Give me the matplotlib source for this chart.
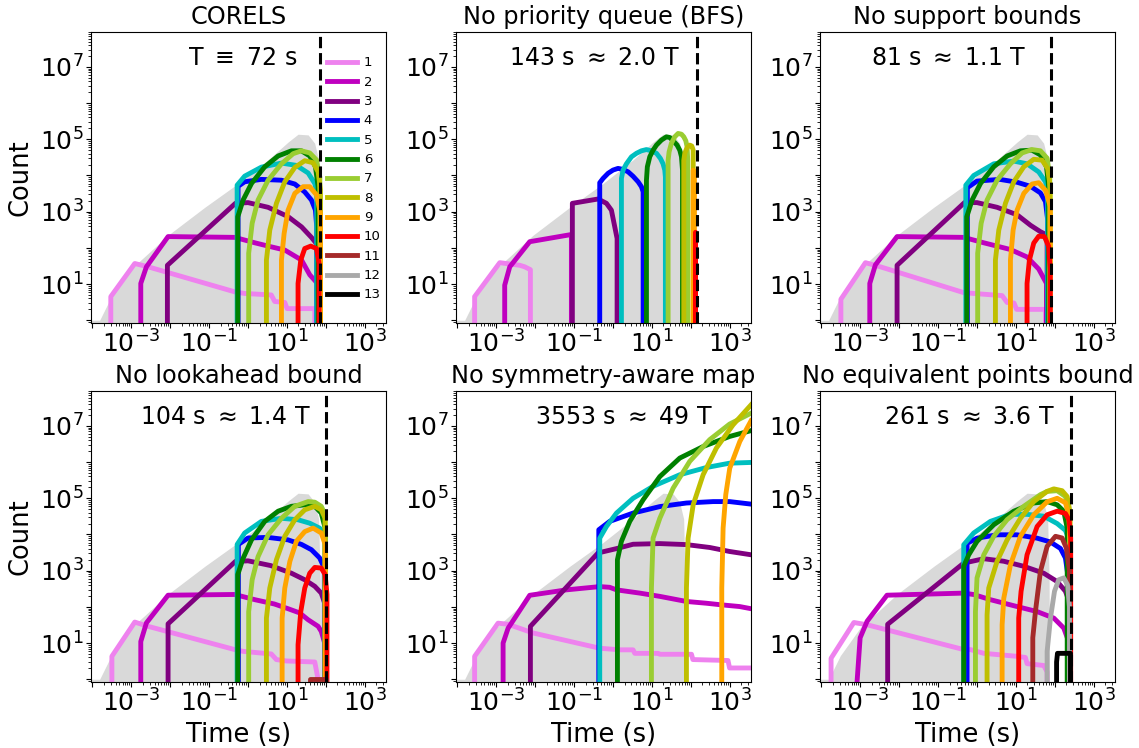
import numpy as np
import matplotlib
matplotlib.use("Agg")
import matplotlib.pyplot as plt
from matplotlib.lines import Line2D
from matplotlib.ticker import FixedLocator, LogLocator, FuncFormatter, NullFormatter

# colours for prefix length 1..13
COLORS = ['violet', 'm', 'purple', 'b', 'c', 'g', 'yellowgreen', 'y',
          'orange', 'r', 'brown', 'darkgray', 'k']

TITLES = ['CORELS', 'No priority queue (BFS)', 'No support bounds',
          'No lookahead bound', 'No symmetry-aware map', 'No equivalent points bound']
RUNTIMES = [72, 143, 81, 104, 3553, 261]
NOTES = [r'T $\equiv$ 72 s', r'143 s $\approx$ 2.0 T', r'81 s $\approx$ 1.1 T',
         r'104 s $\approx$ 1.4 T', r'3553 s $\approx$ 49 T', r'261 s $\approx$ 3.6 T']
NOTE_X = [0.515, 0.47, 0.437, 0.454, 0.57, 0.505]

# total queue size of CORELS (grey background, same in every panel)
total_t = [9.3e-5, 1.55e-4, 3.1e-4, 1.02e-3, 2.45e-3, 8.9e-3, 0.078, 0.56, 3.3,
           11, 19.5, 35.5, 52, 66, 72, 75]
total_c = [1, 1, 4.5, 27, 63, 224, 1320, 6000, 27000, 85000, 138000, 132000,
           78000, 27000, 590, 0]

# queue size per prefix length: {length: (times, counts)}
corels = {
    1: ([3.0e-4, 3.0e-4, 1.24e-3, 2.72e-3, 0.46, 0.83, 4.0, 4.9, 8.9, 10.2, 52.5, 57],
        [0, 4.5, 37, 30, 6.1, 5.5, 5.0, 3.3, 3.1, 2.1, 2.1, 0]),
    2: ([1.77e-3, 1.77e-3, 2.47e-3, 8.9e-3, 0.46, 1.51, 3.31, 8.9, 24, 39, 61.7, 64.5],
        [0, 10.4, 30, 205, 195, 138, 112, 87, 46, 18, 10.4, 0]),
    3: ([8.55e-3, 8.55e-3, 0.48, 1.01, 3.31, 10.8, 24, 43, 61.7, 64.5],
        [0, 33, 1700, 1780, 1320, 730, 380, 195, 120, 0]),
    4: ([0.56, 0.56, 0.83, 2.23, 7.3, 16.1, 29, 43, 54.6, 58.9, 61.7],
        [0, 5000, 6700, 7800, 7400, 5800, 3500, 2100, 1100, 380, 0]),
    5: ([0.53, 0.53, 0.83, 2.23, 7.3, 17.7, 35.4, 52.5, 58.9, 61.7],
        [0, 5400, 9600, 17000, 22000, 19000, 11700, 6000, 3500, 0]),
    6: ([0.55, 0.55, 0.755, 1.24, 2.72, 6.0, 13.2, 23.8, 38.9, 54.6, 64, 65],
        [0, 720, 2100, 6000, 17400, 34600, 48000, 48000, 34600, 17400, 4900, 0]),
    7: ([1.05, 1.05, 1.29, 1.83, 3.31, 7.3, 14.6, 23.8, 38.9, 58, 70.8, 72],
        [0, 71, 480, 2100, 7400, 21000, 40000, 48000, 42000, 27000, 9000, 0]),
    8: ([3.0, 3.0, 3.66, 5.42, 8.9, 16.1, 29, 47.5, 64, 73.5, 74],
        [0, 46, 310, 1700, 6700, 16700, 25600, 22500, 12600, 4000, 0]),
    9: ([7.3, 7.3, 8.55, 10.8, 16.1, 26.3, 38.9, 58, 73.5, 75],
        [0, 46, 250, 1100, 3200, 4900, 4900, 2900, 900, 0]),
    10: ([19.5, 19.5, 22.9, 29, 41.4, 58, 67.6, 73.5],
         [0, 10.4, 46, 96, 112, 96, 37, 0]),
}

no_pqueue = {
    1: ([2.8e-4, 2.8e-4, 1.24e-3, 4.05e-3, 5.4e-3, 7.6e-3, 7.7e-3],
        [0, 4.5, 39, 33, 30, 25, 0]),
    2: ([1.66e-3, 1.66e-3, 2.24e-3, 7.3e-3, 0.086, 0.091],
        [0, 9.3, 30, 148, 234, 0]),
    3: ([0.091, 0.091, 0.417, 0.684, 0.918, 1.285, 1.32],
        [0, 1700, 2240, 1700, 1100, 182, 0]),
    4: ([0.46, 0.46, 0.56, 0.755, 1.01, 1.36, 1.83, 2.47, 3.31, 4.46, 5.42, 6.0, 6.35],
        [0, 6300, 8300, 11500, 14100, 15700, 14700, 12600, 9500, 6700, 4900, 3550, 0]),
    5: ([1.66, 1.66, 1.83, 2.23, 3.0, 4.04, 5.42, 7.3, 9.8, 13.2, 16.7, 19.5, 21.6, 22.4, 23],
        [0, 8300, 14100, 21000, 32700, 41000, 48000, 52000, 48000, 41000, 29500, 21000,
         14100, 9000, 0]),
    6: ([7.3, 7.3, 7.7, 8.9, 10.8, 13.2, 17.7, 23.8, 29, 35.4, 44.8, 52.5, 58, 61.7, 64.5],
        [0, 7400, 17400, 33000, 50000, 69000, 95000, 117000, 112000, 91000, 69000, 50000,
         33000, 14000, 0]),
    7: ([26.3, 26.3, 27.9, 32, 39, 47.5, 58, 66.5, 75, 81, 84, 86],
        [0, 26000, 45000, 78000, 117000, 145000, 138000, 117000, 91000, 62000, 26000, 0]),
    8: ([66.5, 66.5, 70.5, 81, 95, 107, 116, 117],
        [0, 26000, 41000, 59000, 69000, 65000, 50000, 0]),
    9: ([116, 116, 125, 130], [0, 14000, 13000, 0]),
    10: ([133, 133, 141], [0, 270, 0]),
}

no_support = {
    1: ([3.2e-4, 3.2e-4, 1.37e-3, 3.3e-3, 0.46, 0.83, 4.46, 6.0, 9.0, 10.5, 58, 64],
        [0, 3.8, 39, 30, 5.8, 5.5, 4.8, 3.1, 3.0, 2.0, 2.0, 0]),
    2: ([1.77e-3, 1.77e-3, 2.47e-3, 8.9e-3, 0.46, 1.51, 7.3, 19.5, 38.9, 61.7, 66],
        [0, 10.4, 34, 205, 195, 138, 90, 56, 26, 10.4, 0]),
    3: ([8.9e-3, 8.9e-3, 0.48, 1.01, 3.31, 10.8, 24, 43, 64, 68],
        [0, 33, 1780, 1780, 1320, 820, 420, 280, 225, 0]),
    4: ([0.57, 0.57, 1.01, 3.9, 10.8, 24, 43, 58, 66, 68],
        [0, 4600, 7000, 7800, 6500, 5000, 3300, 1900, 600, 0]),
    5: ([0.52, 0.52, 0.83, 2.72, 8.9, 19.5, 38.9, 58, 66, 68],
        [0, 5400, 10000, 21000, 25000, 21000, 12500, 6700, 3800, 0]),
    6: ([0.55, 0.55, 0.755, 1.24, 2.72, 6.0, 13.2, 26, 43, 61.7, 70, 71],
        [0, 720, 2100, 6000, 17400, 34600, 48000, 50000, 37000, 17400, 4900, 0]),
    7: ([1.05, 1.05, 1.29, 1.83, 3.31, 7.3, 14.6, 26, 43, 64, 75, 77],
        [0, 71, 480, 2100, 7400, 21000, 42000, 52000, 48000, 30000, 9000, 0]),
    8: ([3.0, 3.0, 3.66, 5.42, 8.9, 16.1, 29, 47.5, 66, 77, 78],
        [0, 46, 310, 1700, 6700, 17400, 28000, 26500, 15500, 4900, 0]),
    9: ([7.3, 7.3, 8.55, 10.8, 16.1, 26.3, 38.9, 58, 77, 81],
        [0, 46, 310, 1100, 3200, 5800, 6300, 3900, 1400, 0]),
    10: ([19.5, 19.5, 22.4, 29, 38.9, 54.6, 70, 77, 80],
         [0, 10.4, 46, 136, 210, 205, 110, 25, 0]),
}

no_lookahead = {
    1: ([3.2e-4, 3.2e-4, 1.24e-3, 2.72e-3, 0.46, 0.75, 4.0, 5.4, 9.8, 52.5, 61.7, 63],
        [0, 4.3, 38, 29, 6.6, 5.9, 5.0, 3.5, 3.2, 3.0, 1.2, 0]),
    2: ([1.77e-3, 1.77e-3, 2.47e-3, 8.9e-3, 0.46, 1.51, 4.8, 10.8, 21.5, 35.4, 64, 77, 97, 103],
        [0, 11, 36, 210, 220, 158, 120, 89, 68, 44, 29, 21, 9, 0]),
    3: ([8.9e-3, 8.9e-3, 0.48, 1.01, 3.9, 13.2, 29, 52.5, 77, 97, 103],
        [0, 34, 1800, 1870, 1380, 850, 560, 370, 240, 115, 0]),
    4: ([0.57, 0.57, 1.01, 3.31, 10.8, 24, 43, 70, 92, 99],
        [0, 5300, 8000, 8300, 7100, 5300, 3800, 2250, 1180, 0]),
    5: ([0.53, 0.53, 0.83, 2.23, 7.3, 19.5, 38.9, 70, 97, 104],
        [0, 5300, 11000, 23000, 28000, 25500, 20500, 15000, 8900, 0]),
    6: ([0.55, 0.55, 0.755, 1.24, 2.72, 6.0, 13.2, 29, 52.5, 77, 97, 104],
        [0, 780, 2200, 7100, 23000, 44000, 60000, 66000, 60000, 39000, 15000, 0]),
    7: ([1.05, 1.05, 1.29, 1.83, 3.31, 7.3, 16.1, 35.4, 52.5, 77, 97, 106],
        [0, 74, 560, 2450, 9800, 28000, 60000, 81000, 78000, 60000, 35000, 0]),
    8: ([3.0, 3.0, 3.66, 5.42, 8.9, 16.1, 29, 52.5, 77, 97, 108],
        [0, 49, 330, 2000, 8900, 25500, 48000, 60000, 48000, 28000, 0]),
    9: ([7.6, 7.6, 8.9, 12, 17.7, 29, 47.5, 77, 97, 108],
        [0, 49, 330, 1800, 6500, 12000, 15000, 11000, 5300, 0]),
    10: ([19.5, 19.5, 22.9, 29, 38.9, 52.5, 77, 97, 108, 113],
         [0, 9, 74, 330, 850, 1230, 1180, 780, 220, 0]),
    11: ([39, 39, 105, 105], [0, 1, 1, 0]),
}

no_symmetry = {
    1: ([2.8e-4, 2.8e-4, 1.12e-3, 2.03e-3, 8.9e-3, 0.46, 1.51, 3.31, 3.66, 14.6, 16.1,
         105, 114, 910, 1000, 3553],
        [0, 4.3, 35.5, 33, 19, 7.2, 6.5, 6.5, 5.2, 5.2, 4.9, 4.9, 3.5, 3.3, 2.05, 2.05]),
    2: ([1.51e-3, 1.51e-3, 2.03e-3, 7.3e-3, 0.064, 0.46, 0.83, 1.24, 4.92, 16.1, 77.8,
         254, 560, 1820, 3553],
        [0, 10, 25.7, 209, 295, 363, 347, 295, 240, 195, 141, 126, 115, 102, 89]),
    3: ([7.6e-3, 7.6e-3, 0.417, 1.24, 3.31, 16.1, 77.8, 309, 1000, 3553],
        [0, 29, 3090, 4070, 5370, 5600, 5250, 4370, 3390, 2750]),
    4: ([0.435, 0.435, 0.83, 3.31, 16.1, 77.8, 378, 1000, 3553],
        [0, 13500, 23000, 39000, 59000, 74000, 81000, 81000, 69000]),
    5: ([0.46, 0.46, 0.684, 1.24, 3.31, 10.8, 52.5, 254, 1000, 3553],
        [0, 7900, 16600, 39000, 100000, 214000, 447000, 708000, 933000, 977000]),
    6: ([1.31, 1.31, 1.66, 2.72, 6.0, 16.1, 52.5, 209, 1000, 3553],
        [0, 2000, 6460, 23000, 91000, 398000, 1.29e6, 2.69e6, 5.1e6, 7.4e6]),
    7: ([9.8, 9.8, 10.8, 16.1, 35.4, 94.8, 309, 1000, 3553],
        [0, 331, 7900, 28000, 190000, 1.05e6, 4.17e6, 1.12e7, 2.24e7]),
    8: ([77.8, 77.8, 85.9, 116, 209, 459, 1230, 3553],
        [0, 331, 7900, 66000, 447000, 2.45e6, 1.07e7, 3.8e7]),
    9: ([630, 630, 682, 798, 1010, 1830, 3553],
        [0, 330, 15000, 126000, 676000, 3.7e6, 1.38e7]),
}

no_equiv = {
    1: ([1.79e-4, 1.79e-4, 6.9e-4, 1.51e-3, 0.46, 0.684, 1.51, 10.8, 17.7, 19.5, 52.5, 64, 68],
        [0, 3.8, 37, 32, 6.6, 6.6, 5.2, 4.3, 4.0, 2.7, 2.4, 1.6, 0]),
    2: ([8.3e-4, 1.0e-3, 1.51e-3, 4.9e-3, 0.46, 0.83, 2.23, 10.8, 35.4, 95, 171, 229, 240],
        [0.8, 14, 40, 210, 240, 219, 158, 102, 74, 49, 26, 11, 0]),
    3: ([5.1e-3, 5.1e-3, 0.46, 1.51, 4.92, 16.1, 52.5, 116, 189, 230, 235],
        [0, 33, 1620, 2140, 1820, 1320, 850, 500, 270, 150, 0]),
    4: ([0.56, 0.56, 1.01, 3.31, 10.8, 35.4, 77.8, 141, 189, 217, 235],
        [0, 5700, 7900, 9800, 9800, 7900, 6200, 4100, 2240, 780, 0]),
    5: ([0.46, 0.46, 0.83, 2.23, 7.3, 19.5, 52.5, 116, 189, 225, 235],
        [0, 5200, 11000, 23000, 36000, 36000, 32000, 20000, 13000, 8000, 0]),
    6: ([0.46, 0.46, 0.62, 1.01, 2.72, 8.9, 29, 64, 116, 171, 210, 230],
        [0, 1320, 2750, 6460, 18600, 44000, 74000, 81000, 66000, 44000, 15000, 0]),
    7: ([0.92, 0.92, 1.01, 1.51, 2.72, 6.0, 16.1, 43, 64, 116, 189, 240, 250],
        [0, 74, 630, 2750, 8900, 25700, 60000, 126000, 155000, 162000, 112000, 40000, 0]),
    8: ([1.83, 1.83, 2.02, 3.31, 6.0, 13.2, 29, 64, 95, 155, 209, 250, 255],
        [0, 60, 330, 1820, 7100, 28000, 81000, 155000, 182000, 162000, 112000, 40000, 0]),
    9: ([4.46, 4.46, 4.92, 7.3, 13.2, 29, 64, 116, 189, 229, 255, 261],
        [0, 32, 174, 1450, 8900, 35000, 80000, 100000, 75000, 35000, 5000, 0]),
    10: ([11.9, 11.9, 13.7, 19.5, 35.4, 64, 116, 189, 235, 258, 262],
         [0, 49, 270, 2750, 16600, 35000, 44000, 38000, 25000, 8000, 0]),
    11: ([27.4, 27.4, 32, 43, 64, 105, 155, 200, 240, 255],
         [0, 14, 74, 955, 4700, 8900, 8000, 4200, 1000, 0]),
    12: ([64, 64, 78, 99, 127, 171, 215, 240, 250],
         [0, 5.9, 49, 270, 560, 630, 400, 100, 0]),
    13: ([112, 112, 118, 255, 258], [0, 3, 5.2, 5.2, 0]),
}

PANELS = [corels, no_pqueue, no_support, no_lookahead, no_symmetry, no_equiv]


def log_label(v, pos):
    e = int(round(np.log10(v)))
    return r'$\mathdefault{10^{%d}}$' % e if e % 2 else ''


fig = plt.figure(figsize=(11.39, 7.48), dpi=100)
lefts = [91, 456, 820]
tops = [32, 391]
W, H = 295, 291

axes = []
for i in range(6):
    r, c = divmod(i, 3)
    ax = fig.add_axes([lefts[c] / 1139, 1 - (tops[r] + H) / 748, W / 1139, H / 748])
    axes.append(ax)
    ax.set_xscale('log', nonpositive='clip')
    ax.set_yscale('log', nonpositive='clip')

    ax.fill_between(total_t, np.maximum(total_c, 1e-3), 1e-3, color='0.85', lw=0)
    for k, (t, cnt) in PANELS[i].items():
        ax.plot(t, cnt, color=COLORS[k - 1], lw=3.5)
    if i != 4:
        ax.axvline(RUNTIMES[i], color='k', ls='--', lw=2.2)

    ax.set_xlim(9.3e-5, 3553)
    ax.set_ylim(0.84, 9.2e7)
    ax.xaxis.set_major_locator(FixedLocator([10.0 ** e for e in range(-4, 4)]))
    ax.yaxis.set_major_locator(FixedLocator([10.0 ** e for e in range(0, 8)]))
    ax.xaxis.set_major_formatter(FuncFormatter(log_label))
    ax.yaxis.set_major_formatter(FuncFormatter(log_label))
    ax.xaxis.set_minor_locator(LogLocator(base=10, subs=np.arange(2, 10), numticks=100))
    ax.yaxis.set_minor_locator(LogLocator(base=10, subs=np.arange(2, 10), numticks=100))
    ax.xaxis.set_minor_formatter(NullFormatter())
    ax.yaxis.set_minor_formatter(NullFormatter())
    ax.tick_params(which='major', labelsize=18, length=3.5, pad=2)
    ax.tick_params(which='minor', length=2)

    ax.set_title(TITLES[i], fontsize=17.3)
    ax.text(NOTE_X[i], 0.91, NOTES[i], transform=ax.transAxes, ha='center',
            va='center', fontsize=17)
    if c == 0:
        ax.set_ylabel('Count', fontsize=18.5)
    if r == 1:
        ax.set_xlabel('Time (s)', fontsize=18.5)

handles = [Line2D([], [], color=col, lw=3.5) for col in COLORS]
labels = [str(k) for k in range(1, 14)]
axes[0].legend(handles, labels, loc='upper left', bbox_to_anchor=(0.79, 0.925),
               fontsize=9.5, frameon=True, framealpha=1, facecolor='white',
               edgecolor='none', borderpad=0.2, handlelength=2.3, labelspacing=0.48,
               handletextpad=0.5, borderaxespad=0)

fig.savefig('out.png', dpi=100)
